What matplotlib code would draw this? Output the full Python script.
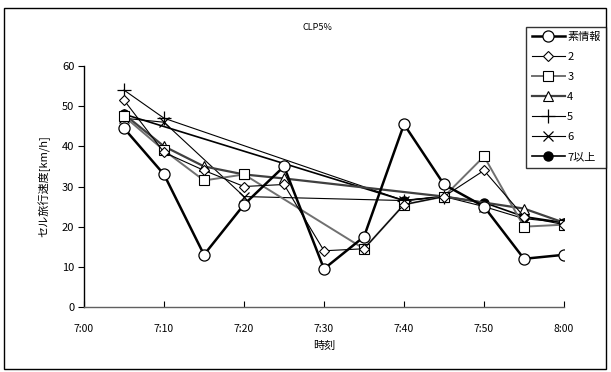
""" Cell travel speed by time of day, CLP5%
"""
import matplotlib
matplotlib.use('Agg')
import matplotlib.pyplot as plt
from matplotlib.patches import Rectangle

plt.rcParams['font.family'] = ['Noto Sans CJK JP', 'DejaVu Sans']

tick_labels = ['7:00', '7:10', '7:20', '7:30', '7:40', '7:50', '8:00']

t_raw = ['7:05', '7:10', '7:15', '7:20', '7:25', '7:30', '7:35', '7:40', '7:45', '7:50', '7:55', '8:00']
v_raw = [44.5, 33, 13, 25.5, 35, 9.5, 17.5, 45.5, 30.5, 25, 12, 13]

t_2 = ['7:05', '7:10', '7:15', '7:20', '7:25', '7:30', '7:35', '7:40', '7:45', '7:50', '7:55', '8:00']
v_2 = [51.5, 38.5, 34, 30, 30.5, 14, 14.5, 25.5, 27.5, 34, 22.5, 20.5]

t_3 = ['7:05', '7:10', '7:15', '7:20', '7:35', '7:40', '7:45', '7:50', '7:55', '8:00']
v_3 = [47.5, 39, 31.5, 33, 14.5, 25.5, 27.5, 37.5, 20, 20.5]

t_4 = ['7:05', '7:10', '7:15', '7:20', '7:25', '7:45', '7:55', '8:00']
v_4 = [48, 40, 35, 33, 32, 27.5, 24.5, 21]

t_5 = ['7:05', '7:10', '7:40', '7:45']
v_5 = [54, 47, 26.5, 27.5]

t_6 = ['7:05', '7:10', '7:20', '7:40', '7:45', '7:50', '7:55', '8:00']
v_6 = [47, 46, 27.5, 26.5, 27.5, 25, 22, 21]

t_7 = ['7:05', '7:40', '7:45', '7:50', '7:55', '8:00']
v_7 = [48, 26.5, 27.5, 26, 22.5, 21]


def minutes(labels):
    # minutes after 7:00
    out = []
    for s in labels:
        h, m = s.split(':')
        out.append((int(h) - 7) * 60 + int(m))
    return out


fig = plt.figure(figsize=(6.11, 3.72), dpi=100)
fig.patches.append(Rectangle((0.007, 0.008), 0.985, 0.97, transform=fig.transFigure,
                             fill=False, edgecolor='black', linewidth=1.0))
ax = fig.add_axes([0.1375, 0.1747, 0.7856, 0.6479])

ax.plot(minutes(t_7), v_7, color='black', lw=1.2, marker='o', ms=6.5,
        mfc='black', mec='black', label='7以上', zorder=3)
ax.plot(minutes(t_6), v_6, color='black', lw=0.8, marker='x', ms=7,
        mew=0.9, label='6', zorder=3)
ax.plot(minutes(t_5), v_5, color='black', lw=0.8, marker='+', ms=10,
        mew=0.9, label='5', zorder=3)
ax.plot(minutes(t_4), v_4, color='#404040', lw=1.6, marker='^', ms=6.5,
        mfc='white', mec='black', mew=0.8, label='4', zorder=3)
ax.plot(minutes(t_3), v_3, color='#707070', lw=1.4, marker='s', ms=7,
        mfc='white', mec='black', mew=0.8, label='3', zorder=3)
ax.plot(minutes(t_2), v_2, color='black', lw=0.8, marker='D', ms=5,
        mfc='white', mec='black', mew=0.8, label='2', zorder=4)
ax.plot(minutes(t_raw), v_raw, color='black', lw=1.8, marker='o', ms=8,
        mfc='white', mec='black', mew=0.9, label='素情報', zorder=5)

ax.set_xlim(0, 60)
ax.set_ylim(0, 60)
ax.set_xticks(minutes(tick_labels))
ax.set_xticklabels(tick_labels)
ax.set_yticks([0, 10, 20, 30, 40, 50, 60])

for side in ['top', 'right']:
    ax.spines[side].set_visible(False)
ax.spines['left'].set_linewidth(1.0)
ax.spines['bottom'].set_color('#606060')
ax.spines['bottom'].set_linewidth(1.0)
ax.tick_params(axis='x', direction='in', length=4, labelsize=7.5, pad=12)
ax.tick_params(axis='y', direction='out', length=4, labelsize=8, pad=3)

ax.set_xlabel('時刻', fontsize=8, labelpad=5)
ax.set_ylabel('セル旅行速度[km/h]', fontsize=8, labelpad=8)
fig.text(0.52, 0.925, 'CLP5%', ha='center', va='center', fontsize=6.5)

handles, labels = ax.get_legend_handles_labels()
leg = fig.legend(handles[::-1], labels[::-1], loc='upper right',
                 bbox_to_anchor=(0.992, 0.928), frameon=True, fancybox=False,
                 edgecolor='black', fontsize=8, handlelength=3.0,
                 handletextpad=0.2, labelspacing=0.9, borderpad=0.5,
                 borderaxespad=0)
leg.get_frame().set_linewidth(1.0)

plt.savefig('out.png', dpi=100)
plt.close()
